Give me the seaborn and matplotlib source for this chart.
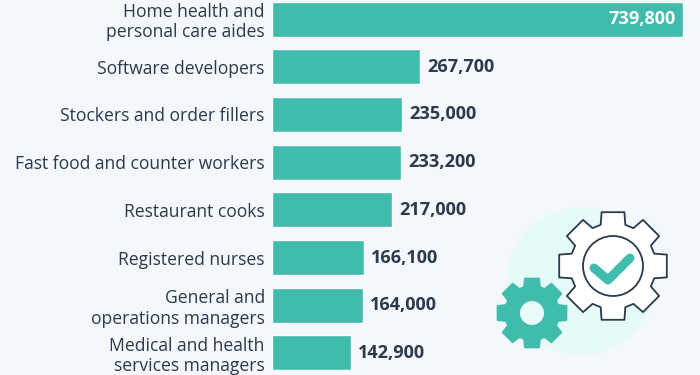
import matplotlib
matplotlib.use('Agg')
import matplotlib.pyplot as plt
from matplotlib.patches import Circle, Polygon
import numpy as np
import pandas as pd
import seaborn as sns

occupations = ['Home health and\npersonal care aides', 'Software developers', 'Stockers and order fillers',
               'Fast food and counter workers', 'Restaurant cooks', 'Registered nurses',
               'General and\noperations managers', 'Medical and health\nservices managers']
jobs = [739800, 267700, 235000, 233200, 217000, 166100, 164000, 142900]

bg = '#f4f7fb'
teal = '#3fbcac'
dark = '#2b3a4c'

sns.set_theme(style='white')
plt.rcParams['font.family'] = ['Open Sans', 'DejaVu Sans']

df = pd.DataFrame({'occupation': occupations, 'jobs': jobs})

fig = plt.figure(figsize=(7, 3.75), dpi=100, facecolor=bg)
ax = fig.add_axes([271.5 / 700, 0, 428.5 / 700, 1], facecolor=bg)
sns.barplot(data=df, x='jobs', y='occupation', color=teal, saturation=1, width=0.735, ax=ax)
ax.set_xlim(0, 770400)
ax.set_ylim(7.463, -0.399)
ax.set_xlabel('')
ax.set_ylabel('')
ax.xaxis.set_visible(False)
sns.despine(ax=ax, left=True, bottom=True)
ax.tick_params(axis='y', length=0, pad=4.8)
for lab in ax.get_yticklabels():
    lab.set_fontsize(12.65)
    lab.set_color(dark)
    lab.set_linespacing(1.17)

# 数值标签,第一个放在柱子里面
labels = ax.bar_label(ax.containers[0], labels=[f'{v:,}' for v in jobs], padding=5,
                      fontsize=13.1, fontweight='bold', color=dark)
labels[0].set_color('white')
labels[0].set_ha('right')
labels[0].set_position((-5.5, 0))

# 右下角的齿轮图标,用像素坐标
icon = fig.add_axes([0, 0, 1, 1], facecolor='none')
icon.set_xlim(0, 700)
icon.set_ylim(375, 0)
icon.axis('off')

def gear(cx, cy, r_out, r_in, w_out, w_in, **kw):
    pts = []
    for i in range(8):
        a = i * np.pi / 4
        for r, d in [(r_in, -w_in / r_in), (r_out, -w_out / r_out), (r_out, w_out / r_out), (r_in, w_in / r_in)]:
            pts.append((cx + r * np.cos(a + d), cy + r * np.sin(a + d)))
    icon.add_patch(Polygon(pts, closed=True, **kw))

icon.add_patch(Circle((581, 281), 74, fc='#e6fbf8', ec='none'))
gear(613, 266, 55, 43, 11.5, 12.5, fc='white', ec=dark, lw=1.3, joinstyle='round')
icon.add_patch(Circle((613, 266), 30, fc='white', ec=dark, lw=1.3))
icon.plot([594, 608, 630], [268, 280, 258], color=teal, lw=6.5, solid_capstyle='round', solid_joinstyle='round')
gear(532, 313, 35, 27, 7, 8, fc=teal, ec=teal, lw=1.5, joinstyle='round')
icon.add_patch(Circle((532, 313), 12, fc='#e8fafa', ec='none'))

fig.savefig('out.png', dpi=100, facecolor=bg)
